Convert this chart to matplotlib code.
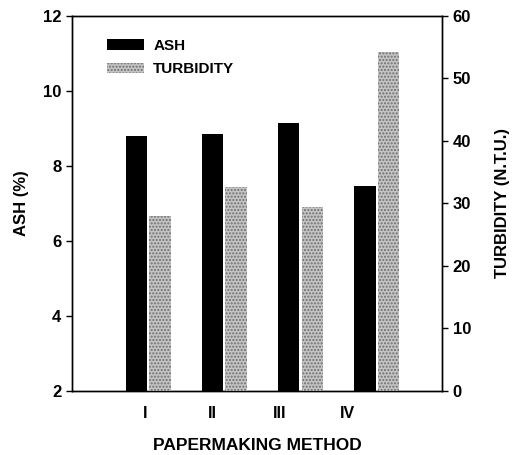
import numpy as np
import matplotlib
matplotlib.use("Agg")
import matplotlib.pyplot as plt

# data
methods = ['I', 'II', 'III', 'IV']
ash = [8.8, 8.85, 9.15, 7.47]          # %
turbidity = [28.0, 32.7, 29.5, 54.2]   # N.T.U.

plt.rcParams['font.family'] = ['Liberation Sans', 'DejaVu Sans']
plt.rcParams['font.weight'] = 'bold'
plt.rcParams['axes.labelweight'] = 'bold'
plt.rcParams['font.size'] = 11

fig = plt.figure(figsize=(5.13, 4.55), dpi=100)
ax1 = fig.add_axes([0.140, 0.141, 0.722, 0.824])
ax2 = ax1.twinx()

x = np.arange(1, len(methods) + 1)
w = 0.28
gap = 0.03

b1 = ax1.bar(x - w / 2 - gap / 2, np.array(ash) - 2, bottom=2, width=w,
             color='black', label='ASH', zorder=3)
b2 = ax2.bar(x + w / 2 + gap / 2, turbidity, width=w, facecolor='#c4c4c4',
             edgecolor='#6f6f6f', hatch='.....', linewidth=0,
             label='TURBIDITY', zorder=3)

ax1.set_xlim(0, 4.86)
ax1.set_ylim(2, 12)
ax2.set_ylim(0, 60)
ax1.set_yticks(np.arange(2, 13, 2))
ax2.set_yticks(np.arange(0, 61, 10))

# the tick labels sit slightly off the bar groups in the original
tick_pos = 0.96 + 0.885 * np.arange(len(methods))
ax1.set_xticks(tick_pos)
ax1.set_xticklabels(methods)
ax1.tick_params(axis='x', length=0, pad=11, labelsize=11.5)
ax1.tick_params(axis='y', direction='out', length=4, width=1, labelsize=12)
ax2.tick_params(axis='y', direction='out', length=4, width=1, labelsize=12)

ax1.set_xlabel('PAPERMAKING METHOD', labelpad=12, fontsize=12.5)
ax1.set_ylabel('ASH (%)', labelpad=10, fontsize=12)
ax2.set_ylabel('TURBIDITY (N.T.U.)', labelpad=17, fontsize=12)

for ax in (ax1, ax2):
    for s in ax.spines.values():
        s.set_linewidth(1)

ax1.legend(handles=[b1, b2], loc='upper left', frameon=False,
           bbox_to_anchor=(0.059, 0.975), handlelength=2.4, handleheight=0.7,
           handletextpad=0.6, labelspacing=0.6)

fig.savefig('out.png', dpi=100)
